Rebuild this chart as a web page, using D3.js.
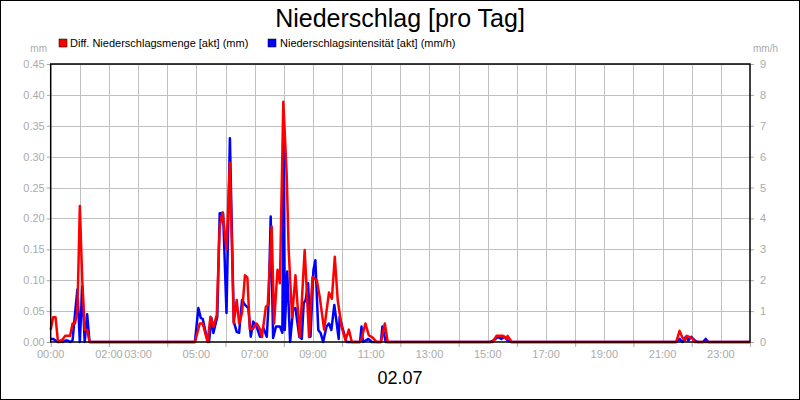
<!DOCTYPE html>
<html><head><meta charset="utf-8">
<script src="https://cdn.jsdelivr.net/npm/d3@7"></script>
<style>body{margin:0;background:#fff}text{font-family:"Liberation Sans",Arial,sans-serif}</style>
</head><body><svg id="c" width="800" height="400"></svg>
<script>
// times in minutes since 00:00
const redTimes = [0,5,10,15,20,25,30,35,40,45,50,55,60,65,70,75,80,
 297,307,313,323,329,335,342,348,354,362,369,377,383,388,394,400,405,410,416,424,431,435,443,447,455,460,467,472,479,486,490,497,504,513,523,532,539,548,554,563,573,579,585,591,599,607,614,620,637,640,648,655,663,671,680,688,694,
 910,918,931,939,941,949,1288,1295,1301,1306,1310,1316,1321,1326,1440];
const redValues = [0.02,0.04,0.04,0,0,0.005,0.01,0.01,0.01,0.03,0.03,0.05,0.22,0.1,0.02,0.02,0,
 0,0.03,0.03,0,0.041,0.025,0.044,0.187,0.21,0.15,0.29,0.03,0.068,0.03,0.047,0.108,0.104,0.021,0.021,0.03,0.021,0.008,0.057,0.06,0.187,0.03,0.117,0.095,0.389,0.27,0.15,0.04,0.108,0.008,0.149,0.008,0.105,0.1,0.073,0.02,0.08,0.07,0.138,0.068,0.025,0.003,0.02,0,0,0.005,0.03,0.011,0.007,0,0,0.03,0,
 0,0.01,0.01,0.005,0.01,0,0,0.018,0.007,0.003,0.01,0.008,0.006,0,0];
const blueTimes = [0,5,10,15,20,25,30,35,40,45,50,55,60,65,70,75,80,
 297,304,309,313,321,326,331,335,343,348,355,362,369,377,383,388,394,400,407,412,417,424,431,438,445,449,453,458,464,472,477,480,482,487,493,499,504,512,517,521,525,530,535,541,545,551,556,561,568,573,578,584,589,593,595,602,609,637,640,643,649,654,661,680,683,690,
 905,912,921,928,935,941,949,1287,1295,1301,1308,1313,1319,1326,1332,1343,1349,1354,1440];
const blueValues = [0.1,0.1,0.05,0,0.05,0,0.05,0.05,0,0.05,0.9,1.7,0,1.8,0,0.9,0,
 0,1.1,0.78,0.75,0.17,0,0.78,0.29,0.82,4.17,4.17,0.94,6.6,0.66,0.33,0.3,1.36,1.2,1.1,0.17,0.66,0.5,0.17,0.45,0.17,1.36,4.06,0.13,0.5,0.5,0.3,7.1,0.39,2.28,0,1.04,1.1,0.17,0.1,1.26,1.36,1.9,0.17,2.33,2.65,0.39,0.28,0,0.5,0.6,0.39,1.2,0.6,0.1,0.82,0.39,0,0,0.5,0,0.05,0.1,0,0,0.5,0,
 0,0.05,0.17,0.1,0.17,0.05,0,0,0.1,0,0.17,0.05,0.17,0.05,0,0,0.1,0,0];
const leftTicks = [0,0.05,0.10,0.15,0.20,0.25,0.30,0.35,0.40,0.45];
const rightTicks = [0,1,2,3,4,5,6,7,8,9];
const xLabelHours = [0,2,3,5,7,9,11,13,15,17,19,21,23];

const svg = d3.select("#c");
const L=50.7,R=750,T=64,B=342;
const x = d3.scaleLinear().domain([0,1440]).range([L,R]);
const yl = d3.scaleLinear().domain([0,0.45]).range([B,T]);
const yr = d3.scaleLinear().domain([0,9]).range([B,T]);
const grey="#aaa";
svg.append("rect").attr("x",0.5).attr("y",0.5).attr("width",799).attr("height",399).attr("fill","#fff").attr("stroke","#000");
// grid
const g=svg.append("g").attr("stroke","#c0c0c0").attr("stroke-width",1);
d3.range(1,24).forEach(h=>g.append("line").attr("x1",Math.round(x(h*60))+.5).attr("x2",Math.round(x(h*60))+.5).attr("y1",T).attr("y2",B));
leftTicks.slice(1).forEach(v=>g.append("line").attr("x1",L).attr("x2",R).attr("y1",Math.round(yl(v))+.5).attr("y2",Math.round(yl(v))+.5));
// axes
const la=svg.append("g").attr("transform",`translate(${L},0)`).call(d3.axisLeft(yl).tickValues(leftTicks).tickFormat(d3.format(".2f")).tickSize(4).tickPadding(2));
const ra=svg.append("g").attr("transform",`translate(${R},0)`).call(d3.axisRight(yr).tickValues(rightTicks).tickFormat(d3.format("d")).tickSize(4).tickPadding(6));
const ba=svg.append("g").attr("transform",`translate(0,${B})`).call(d3.axisBottom(x).tickValues(d3.range(0,25,2).map(h=>h*60)).tickFormat("").tickSize(5));
[la,ra,ba].forEach(a=>{a.select(".domain").remove();a.selectAll("line").attr("stroke",grey);a.selectAll("text").attr("fill",grey).style("font-size","11px");});
svg.selectAll(".lbl").data(xLabelHours).enter().append("text").attr("x",h=>x(h*60)).attr("y",B+16).attr("text-anchor","middle").attr("fill",grey).style("font-size","11px").text(h=>String(h).padStart(2,"0")+":00");
// series
const line=(ys)=>d3.line().x(d=>x(d[0])).y(d=>ys(d[1]));
svg.append("path").datum(blueTimes.map((t,i)=>[t,blueValues[i]])).attr("d",line(yr)).attr("fill","none").attr("stroke","#0000ff").attr("stroke-width",2.5).attr("stroke-linejoin","round");
svg.append("path").datum(redTimes.map((t,i)=>[t,redValues[i]])).attr("d",line(yl)).attr("fill","none").attr("stroke","#ff0000").attr("stroke-width",2.5).attr("stroke-linejoin","round");
// frame
svg.append("rect").attr("x",L).attr("y",T).attr("width",R-L).attr("height",B-T).attr("fill","none").attr("stroke","#000").attr("stroke-width",1.5);
// texts
svg.append("text").attr("x",400).attr("y",27).attr("text-anchor","middle").style("font-size","25px").text("Niederschlag [pro Tag]");
svg.append("text").attr("x",47).attr("y",52).attr("text-anchor","end").attr("fill",grey).style("font-size","10px").text("mm");
svg.append("text").attr("x",753).attr("y",52).attr("fill",grey).style("font-size","10px").text("mm/h");
svg.append("rect").attr("x",59).attr("y",39).attr("width",8).attr("height",8).attr("fill","#ff0000").attr("stroke","#000").attr("stroke-width",.5);
svg.append("text").attr("x",70).attr("y",47).style("font-size","11px").text("Diff. Niederschlagsmenge [akt] (mm)");
svg.append("rect").attr("x",268).attr("y",39).attr("width",8).attr("height",8).attr("fill","#0000ff").attr("stroke","#000").attr("stroke-width",.5);
svg.append("text").attr("x",280).attr("y",47).style("font-size","11px").text("Niederschlagsintensität [akt] (mm/h)");
svg.append("text").attr("x",400).attr("y",384).attr("text-anchor","middle").style("font-size","18px").text("02.07");
</script></body></html>
